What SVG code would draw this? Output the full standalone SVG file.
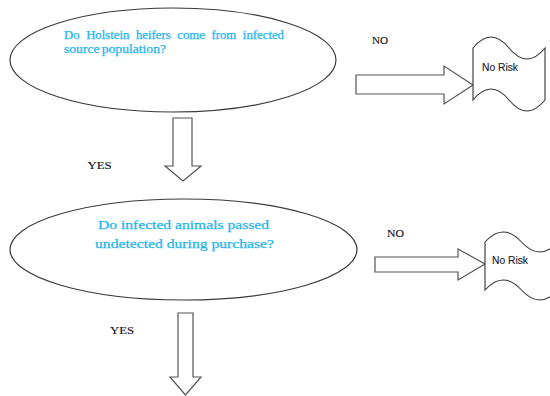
<svg xmlns="http://www.w3.org/2000/svg" width="550" height="396" viewBox="0 0 550 396">
<style>
.q{fill:none;stroke:#3a3a3a;stroke-width:1.2}
.qt{font-family:"Liberation Serif","Times New Roman",serif;fill:#1EB4F0;stroke:#1EB4F0;stroke-width:0.25}
.arr{fill:#fff;stroke:#555;stroke-width:1.2;stroke-linejoin:miter}
.lbl{font-family:"Liberation Serif","Times New Roman",serif;font-size:11px;fill:#111;stroke:#111;stroke-width:0.12}
.tape{fill:#fff;stroke:#333;stroke-width:1.1}
.nr{font-family:"Liberation Sans",Arial,sans-serif;font-size:10.5px;fill:#1f2430;stroke:#1f2430;stroke-width:0.15}
</style>
<rect width="550" height="396" fill="#fff"/>
<g id="connectors">
  <polygon class="arr" points="173,118 192,118 192,166 201,166 183,181 165,166 173,166"/>
  <polygon class="arr" points="356,75 444,75 444,66 473,85 444,104 444,94 356,94"/>
  <polygon class="arr" points="375,257 458,257 458,249 485,264 458,280 458,272 375,272"/>
  <polygon class="arr" points="178,313 193,313 193,377 201,377 185.5,395 170,377 178,377"/>
  <text class="lbl" x="87.5" y="169" textLength="24" lengthAdjust="spacingAndGlyphs">YES</text>
  <text class="lbl" x="110" y="334" textLength="24" lengthAdjust="spacingAndGlyphs">YES</text>
  <text class="lbl" x="372" y="43.5" textLength="16" lengthAdjust="spacingAndGlyphs">NO</text>
  <text class="lbl" x="387" y="237" textLength="17" lengthAdjust="spacingAndGlyphs">NO</text>
</g>
<g id="q1">
  <ellipse class="q" cx="173" cy="60" rx="163" ry="52"/>
  <text class="qt" font-size="11.5" x="64" y="38.5" textLength="220" lengthAdjust="spacingAndGlyphs" word-spacing="3">Do Holstein heifers come from infected</text>
  <text class="qt" font-size="11.5" x="64" y="53" textLength="102" lengthAdjust="spacingAndGlyphs" word-spacing="-1">source population?</text>
</g>
<g id="q2">
  <ellipse class="q" cx="183.5" cy="249.5" rx="173.5" ry="50.5"/>
  <text class="qt" font-size="13" x="98" y="229" textLength="171" lengthAdjust="spacingAndGlyphs">Do infected animals passed</text>
  <text class="qt" font-size="13" x="95" y="248" textLength="179" lengthAdjust="spacingAndGlyphs">undetected during purchase?</text>
</g>
<g id="norisk1">
  <path class="tape" d="M473,48 Q491,26 509,48 T545,48 L545,100 Q527,122 509,100 T473,100 Z"/>
  <text class="nr" x="482" y="70.5" textLength="36" lengthAdjust="spacingAndGlyphs">No Risk</text>
</g>
<g id="norisk2">
  <path class="tape" d="M485,242 Q503,222 521.5,242 T558,242 L558,290 Q540,310 521.5,290 T485,290 Z"/>
  <text class="nr" x="492" y="264" textLength="36" lengthAdjust="spacingAndGlyphs">No Risk</text>
</g>
</svg>
